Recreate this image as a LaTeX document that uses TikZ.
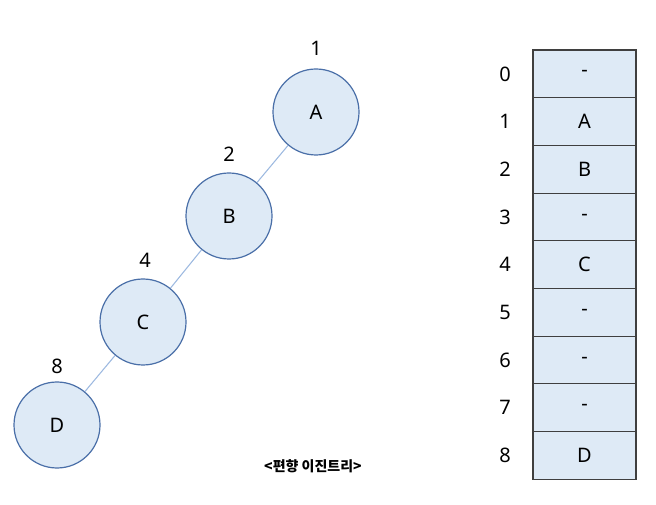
\documentclass[tikz,border=0pt]{standalone}
\usepackage{fontspec}
\setmainfont{Noto Sans}
\newfontfamily\krfont{Noto Sans CJK KR}
\definecolor{nodefill}{HTML}{DEEAF6}
\definecolor{nodeline}{HTML}{4A6FA8}
\definecolor{edgeline}{HTML}{9DB9E0}
\definecolor{cellline}{HTML}{3F3F3F}
\tikzset{
  treenode/.style={circle, draw=nodeline, fill=nodefill, line width=0.9pt, minimum size=64.5pt, inner sep=0pt, font=\fontsize{15}{17}\selectfont},
  numlabel/.style={font=\fontsize{15}{17}\selectfont},
  cell/.style={rectangle, draw=cellline, fill=nodefill, line width=0.8pt, minimum width=77.25pt, minimum height=35.8pt, inner sep=0pt, font=\fontsize{15}{17}\selectfont},
  treeedge/.style={draw=edgeline, line width=0.8pt}
}
\begin{document}
\begin{tikzpicture}[x=0.75pt, y=-0.75pt]
  \useasboundingbox (0,0) rectangle (656,505);

  % tree
  \node[treenode] (A) at (316,112) {A};
  \node[treenode] (B) at (229,216) {B};
  \node[treenode] (C) at (143,322) {C};
  \node[treenode] (D) at (57,425) {D};
  \node[numlabel] (nA) at (316,48) {1};
  \node[numlabel] (nB) at (229,154) {2};
  \node[numlabel] (nC) at (145,260) {4};
  \node[numlabel] (nD) at (57,366) {8};

  \draw[treeedge] (A) -- (B);
  \draw[treeedge] (B) -- (C);
  \draw[treeedge] (C) -- (D);

  \node[font=\krfont\bfseries\fontsize{10.5}{12}\selectfont] (cap) at (313,466) {<편향 이진트리>};

  % array
  \node[cell] (c0) at (584.5,73.9) {-};
  \node[cell] (c1) at (584.5,121.6) {A};
  \node[cell] (c2) at (584.5,169.3) {B};
  \node[cell] (c3) at (584.5,217.0) {-};
  \node[cell] (c4) at (584.5,264.7) {C};
  \node[cell] (c5) at (584.5,312.4) {-};
  \node[cell] (c6) at (584.5,360.1) {-};
  \node[cell] (c7) at (584.5,407.8) {-};
  \node[cell] (c8) at (584.5,455.5) {D};
  \node[numlabel] (i0) at (505,73.9) {0};
  \node[numlabel] (i1) at (505,121.6) {1};
  \node[numlabel] (i2) at (505,169.3) {2};
  \node[numlabel] (i3) at (505,217.0) {3};
  \node[numlabel] (i4) at (505,264.7) {4};
  \node[numlabel] (i5) at (505,312.4) {5};
  \node[numlabel] (i6) at (505,360.1) {6};
  \node[numlabel] (i7) at (505,407.8) {7};
  \node[numlabel] (i8) at (505,455.5) {8};
\end{tikzpicture}
\end{document}
